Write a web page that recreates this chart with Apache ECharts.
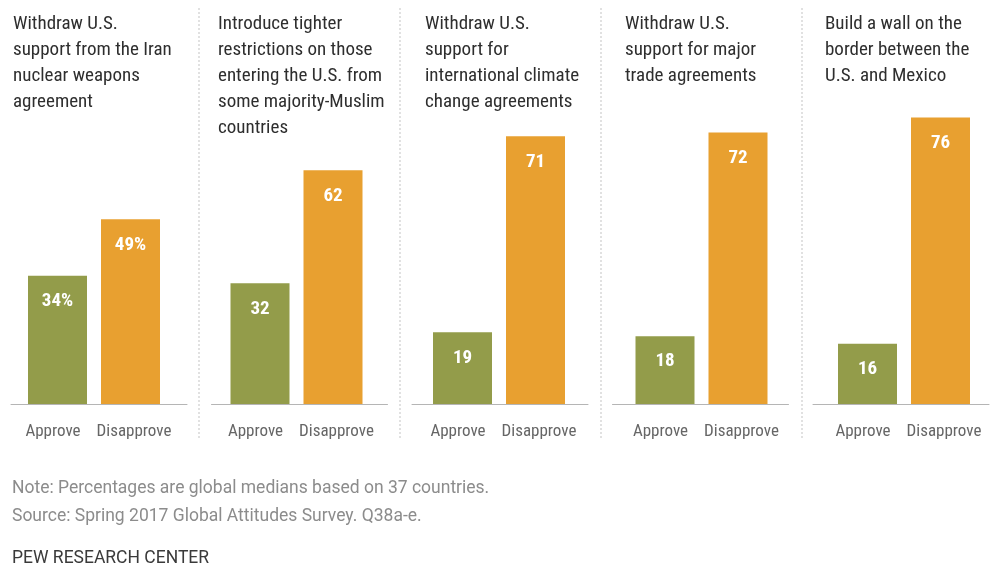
<!DOCTYPE html>
<html>
<head>
<meta charset="utf-8">
<script src="https://cdn.jsdelivr.net/npm/echarts@6/dist/echarts.min.js"></script>
<style>
  html, body { margin: 0; padding: 0; background: #fff; }
  #chart { width: 993px; height: 570px; }
</style>
</head>
<body>
<div id="chart"></div>
<script>
// Survey results: global medians of approval of five U.S. policy moves
const categories = ['Approve', 'Disapprove'];
const topics = [
  'Withdraw U.S.\nsupport from the Iran\nnuclear weapons\nagreement',
  'Introduce tighter\nrestrictions on those\nentering the U.S. from\nsome majority-Muslim\ncountries',
  'Withdraw U.S.\nsupport for\ninternational climate\nchange agreements',
  'Withdraw U.S.\nsupport for major\ntrade agreements',
  'Build a wall on the\nborder between the\nU.S. and Mexico'
];
const approve = [34, 32, 19, 18, 16];
const disapprove = [49, 62, 71, 72, 76];
const noteLines = [
  'Note: Percentages are global medians based on 37 countries.',
  'Source: Spring 2017 Global Attitudes Survey. Q38a-e.'
];
const credit = 'PEW RESEARCH CENTER';

// Layout
const FONT = "'Liberation Sans Narrow', 'Roboto Condensed', 'Arial Narrow', 'Liberation Sans', sans-serif";
const NOTE_FONT = "Roboto, 'Liberation Sans', sans-serif";
const GREEN = '#939C4A';
const ORANGE = '#E8A030';
const BASE_Y = 404;          // bottom of the bars
const Y_MAX = 80;
const PX_PER_UNIT = 3.77;
const plotH = Y_MAX * PX_PER_UNIT;
const plotTop = BASE_Y - plotH;
const barLeft = i => 21 + 202.5 * i;      // bar grid (2 categories, 73px each)
const baseLeft = i => 11 + 200.5 * i;     // baseline extent
const titleLeft = [13, 218, 425, 625, 825];
const sepX = i => 199 + 201 * i;

const chart = echarts.init(document.getElementById('chart'), null, { renderer: 'canvas' });

const grids = [], xAxes = [], yAxes = [], series = [], titles = [];

topics.forEach((t, i) => {
  // bar grid
  grids.push({ left: barLeft(i), width: 146, top: plotTop, height: plotH });
  // baseline grid
  grids.push({ left: baseLeft(i), width: 176, top: plotTop, height: plotH });

  xAxes.push({
    type: 'category', gridIndex: 2 * i, data: categories,
    axisLine: { show: false }, axisTick: { show: false },
    axisLabel: {
      color: '#666', fontSize: 17, fontFamily: FONT, margin: 19, interval: 0, hideOverlap: false,
      formatter: (v, idx) => idx === 0 ? '{a|' + v + '}' : '{b|' + v + '}',
      rich: {
        a: { color: '#666', fontSize: 17, fontFamily: FONT, padding: [0, 9, 0, 0] },
        b: { color: '#666', fontSize: 17, fontFamily: FONT, padding: [0, 0, 0, 7] }
      }
    }
  });
  xAxes.push({
    type: 'category', gridIndex: 2 * i + 1, data: [''],
    axisLine: { show: true, lineStyle: { color: '#b5b5b5', width: 1 } },
    axisTick: { show: false }, axisLabel: { show: false }
  });
  yAxes.push({ type: 'value', gridIndex: 2 * i, min: 0, max: Y_MAX, show: false });
  yAxes.push({ type: 'value', gridIndex: 2 * i + 1, min: 0, max: Y_MAX, show: false });

  series.push({
    type: 'bar', xAxisIndex: 2 * i, yAxisIndex: 2 * i,
    barWidth: 59,
    data: [
      { value: approve[i], itemStyle: { color: GREEN } },
      { value: disapprove[i], itemStyle: { color: ORANGE } }
    ],
    label: {
      show: true, position: 'insideTop', distance: 16,
      color: '#fff', fontWeight: 'bold', fontSize: 19, fontFamily: FONT,
      formatter: p => i === 0 ? p.value + '%' : String(p.value)
    },
    silent: true, animation: false
  });

  titles.push({
    text: t, left: titleLeft[i], top: 11, padding: 0,
    textStyle: { color: '#2e2e2e', fontSize: 19, fontWeight: 'normal', fontFamily: FONT, lineHeight: 26 }
  });
});

const graphics = [];
for (let i = 0; i < 4; i++) {
  graphics.push({
    type: 'line', silent: true,
    shape: { x1: sepX(i), y1: 8, x2: sepX(i), y2: 440 },
    style: { stroke: '#c4c4c4', lineWidth: 1, lineDash: [2, 2] }
  });
}
noteLines.forEach((s, k) => {
  graphics.push({
    type: 'text', left: 12, top: 480 + 28 * k,
    style: { text: s, fill: '#8c8c8c', fontSize: 17.5, fontFamily: NOTE_FONT }
  });
});
graphics.push({
  type: 'text', left: 12, top: 550,
  style: { text: credit, fill: '#3a3a3a', fontSize: 17.5, fontFamily: NOTE_FONT }
});

chart.setOption({
  backgroundColor: '#fff',
  animation: false,
  title: titles,
  grid: grids,
  xAxis: xAxes,
  yAxis: yAxes,
  series: series,
  graphic: graphics
});
</script>
</body>
</html>
